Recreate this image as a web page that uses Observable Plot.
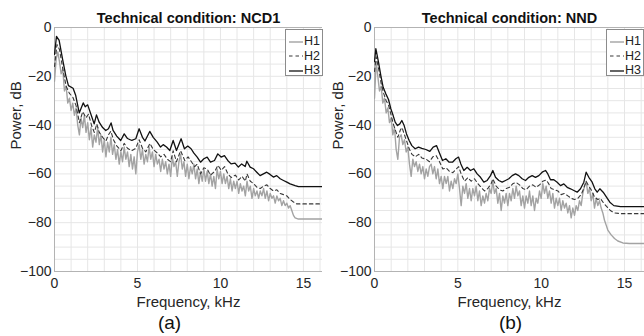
<!DOCTYPE html>
<html>
<head>
<meta charset="utf-8">
<script src="https://cdn.jsdelivr.net/npm/d3@7"></script>
<script src="https://cdn.jsdelivr.net/npm/@observablehq/plot@0.6"></script>
<style>
  body { margin: 0; background: #fff; }
  #wrap { position: relative; width: 644px; height: 336px; overflow: hidden; font-family: "Liberation Sans", Arial, sans-serif; }
  #wrap svg.plot { position: absolute; top: 0; }
  .leg { position: absolute; background: #fff; border: 1px solid #8c8c8c; box-sizing: border-box; font-size: 12.5px; color: #222; }
  .leg .row { position: absolute; left: 2px; height: 14px; line-height: 14px; white-space: nowrap; }
  .leg .row svg { vertical-align: middle; }
  .leg .row span { position: absolute; left: 16px; top: 0; }
</style>
</head>
<body>
<div id="wrap"></div>
<script>
// ---------------- data ----------------
const titles = ["Technical condition: NCD1", "Technical condition: NND"];
const captions = ["(a)", "(b)"];
const seriesNames = ["H1", "H2", "H3"];
const xTicks = [0, 5, 10, 15];
const yTicks = [-100, -80, -60, -40, -20, 0];
const xGrid = [1, 2, 3, 4, 5, 6, 7, 8, 9, 10, 11, 12, 13, 14, 15, 16];
const yGrid = [-95, -90, -85, -80, -75, -70, -65, -60, -55, -50, -45, -40, -35, -30, -25, -20, -15, -10, -5];

// Panel (a) NCD1 : [frequency kHz, power dB]
const h3A = [[0,-11],[0.12,-3.6],[0.28,-5.3],[0.48,-12.8],[0.68,-19.7],[0.84,-23.8],[1.12,-24.9],[1.28,-27.9],[1.49,-35],[1.73,-30.9],[1.85,-32.5],[2.0,-31.7],[2.25,-36.7],[2.39,-39.5],[2.53,-35.8],[2.69,-38.8],[2.9,-41],[3.09,-42.2],[3.25,-41.5],[3.41,-39.1],[3.53,-42.2],[3.75,-44.5],[3.99,-46.3],[4.2,-43.6],[4.4,-45.5],[4.66,-46.3],[4.9,-45.6],[5.1,-41.5],[5.3,-45],[5.45,-46.5],[5.74,-42.6],[5.95,-45],[6.19,-47],[6.39,-49],[6.55,-48],[6.75,-49],[6.95,-50.4],[7.15,-46.3],[7.35,-50.4],[7.63,-45.6],[7.83,-49.7],[8.03,-48.6],[8.23,-49.7],[8.4,-51.5],[8.6,-53.1],[8.8,-55.2],[9.0,-53.8],[9.2,-53.1],[9.4,-55.2],[9.64,-54.5],[9.84,-51.8],[10.04,-53.1],[10.24,-52.5],[10.44,-54.5],[10.64,-55.9],[10.88,-55.6],[11.08,-57.2],[11.28,-55.9],[11.49,-57],[11.59,-54.8],[11.79,-57.2],[11.99,-57.9],[12.19,-59.3],[12.39,-60.7],[12.59,-60],[12.79,-59.3],[12.99,-60.2],[13.19,-61.3],[13.39,-60.7],[13.6,-62],[13.8,-62.7],[14.0,-63.4],[14.2,-64.1],[14.5,-64.8],[14.7,-65.2],[16.2,-65.2]];
const h2A = [[0,-16],[0.15,-7],[0.3,-9],[0.5,-17],[0.7,-24],[0.9,-27],[1.1,-28.5],[1.3,-32],[1.5,-39],[1.7,-34.5],[1.9,-37],[2.05,-35.5],[2.25,-40.5],[2.4,-43],[2.55,-39.5],[2.7,-43],[2.9,-45],[3.1,-46.5],[3.25,-44],[3.4,-42.5],[3.55,-46],[3.75,-48.5],[4.0,-50.5],[4.2,-47.5],[4.4,-49.5],[4.65,-50.5],[4.9,-49.5],[5.1,-46],[5.3,-49.5],[5.5,-51],[5.75,-47.5],[5.95,-50],[6.2,-51.5],[6.4,-53],[6.6,-52],[6.8,-54],[7.0,-55],[7.15,-50.5],[7.35,-55],[7.6,-50.5],[7.85,-54.5],[8.05,-53],[8.25,-55],[8.45,-57],[8.6,-56],[8.8,-60],[9.0,-57.5],[9.2,-58],[9.4,-60.5],[9.65,-59],[9.85,-56.5],[10.05,-58.5],[10.25,-57],[10.45,-60],[10.65,-61.5],[10.9,-60.5],[11.1,-62.5],[11.3,-61],[11.5,-63],[11.6,-60],[11.8,-63],[12.0,-64],[12.2,-65.5],[12.4,-66],[12.6,-65],[12.8,-64.5],[13.0,-66],[13.2,-67],[13.4,-66.5],[13.6,-68],[13.8,-68.5],[14.0,-69],[14.2,-70.5],[14.4,-71.5],[14.6,-72.3],[16.2,-72.3]];
const h1A = [[0,-22],[0.1,-13],[0.2,-10],[0.3,-14],[0.4,-19],[0.5,-17],[0.6,-26],[0.7,-24],[0.8,-31],[0.9,-29],[1.0,-34],[1.1,-31],[1.2,-36],[1.3,-33],[1.4,-40],[1.5,-44],[1.6,-37],[1.7,-41],[1.8,-36],[1.9,-43],[2.0,-39],[2.1,-46],[2.2,-41],[2.3,-49],[2.4,-44],[2.5,-47],[2.6,-41],[2.7,-48],[2.8,-44],[2.9,-51],[3.0,-46],[3.1,-53],[3.2,-47],[3.3,-51],[3.4,-45],[3.5,-52],[3.6,-48],[3.7,-54],[3.8,-50],[3.9,-56],[4.0,-51],[4.1,-55],[4.2,-49],[4.3,-54],[4.4,-51],[4.5,-57],[4.6,-52],[4.7,-58],[4.8,-53],[4.9,-60],[5.0,-51],[5.1,-48],[5.2,-54],[5.3,-50],[5.4,-56],[5.5,-52],[5.6,-55],[5.7,-49],[5.8,-54],[5.9,-51],[6.0,-57],[6.1,-52],[6.2,-56],[6.3,-54],[6.4,-59],[6.5,-54],[6.6,-58],[6.7,-55],[6.8,-60],[6.9,-56],[7.0,-61],[7.1,-53],[7.2,-57],[7.3,-55],[7.4,-61],[7.5,-55],[7.6,-52],[7.7,-58],[7.8,-55],[7.9,-61],[8.0,-56],[8.1,-62],[8.2,-57],[8.3,-60],[8.4,-56],[8.5,-62],[8.6,-58],[8.7,-64],[8.8,-59],[8.9,-63],[9.0,-58],[9.1,-63],[9.2,-59],[9.3,-64],[9.4,-60],[9.5,-65],[9.6,-61],[9.7,-66],[9.8,-58],[9.9,-62],[10.0,-59],[10.1,-64],[10.2,-60],[10.3,-64],[10.4,-61],[10.5,-66],[10.6,-62],[10.7,-67],[10.8,-63],[10.9,-66],[11.0,-63],[11.1,-68],[11.2,-64],[11.3,-67],[11.4,-65],[11.5,-69],[11.6,-63],[11.7,-67],[11.8,-65],[11.9,-70],[12.0,-66],[12.1,-69],[12.2,-67],[12.3,-70],[12.4,-67],[12.5,-69],[12.6,-66],[12.7,-70],[12.8,-67],[12.9,-71],[13.0,-68],[13.1,-70],[13.2,-69],[13.3,-72],[13.4,-69],[13.5,-71],[13.6,-70],[13.7,-73],[13.8,-71],[13.9,-73],[14.0,-72],[14.1,-74],[14.2,-73],[14.3,-75],[14.4,-77],[14.5,-78],[14.7,-78.5],[16.2,-78.5]];

// Panel (b) NND : [frequency kHz, power dB]
const h3B = [[0,-14],[0.08,-8.7],[0.24,-14.2],[0.38,-19.7],[0.52,-24.5],[0.68,-27.2],[0.84,-29.5],[0.98,-33.3],[1.12,-36.1],[1.24,-38.8],[1.38,-40.2],[1.52,-39.5],[1.64,-38.1],[1.78,-40.2],[1.92,-43.6],[2.08,-46.3],[2.24,-48.4],[2.44,-49.7],[2.64,-49],[2.84,-49.5],[3.08,-50],[3.32,-50.8],[3.52,-49],[3.72,-48.4],[3.88,-51.1],[4.08,-54.5],[4.28,-53.8],[4.48,-55.2],[4.68,-55.2],[4.88,-53.8],[5.04,-53.1],[5.18,-55.9],[5.36,-58.6],[5.56,-57.3],[5.76,-58.6],[5.96,-57.9],[6.16,-60],[6.36,-61.4],[6.56,-63.4],[6.76,-62.7],[6.96,-60.7],[7.1,-58.6],[7.26,-61.4],[7.46,-62.7],[7.66,-63.4],[7.86,-62.7],[8.06,-62],[8.26,-60.7],[8.46,-60],[8.66,-60.7],[8.86,-62],[9.06,-62.7],[9.26,-61.4],[9.46,-60.7],[9.66,-61.4],[9.86,-60.7],[10.06,-59.3],[10.26,-58.6],[10.4,-60],[10.56,-62.4],[10.76,-62.4],[10.96,-63.4],[11.16,-64.8],[11.36,-64.1],[11.56,-65.5],[11.76,-66.1],[11.96,-66.8],[12.16,-67.5],[12.36,-66.1],[12.56,-63.4],[12.7,-59.3],[12.86,-61.4],[13.06,-63.4],[13.22,-66.1],[13.36,-67.5],[13.52,-66.1],[13.72,-67.5],[13.92,-69.5],[14.12,-71.6],[14.36,-73],[14.76,-73.4],[16.2,-73.4]];
const h2B = [[0,-18],[0.1,-12],[0.25,-17],[0.4,-23],[0.55,-27],[0.7,-30],[0.85,-32],[1.0,-36],[1.15,-40],[1.3,-43],[1.4,-45],[1.55,-42],[1.65,-41],[1.8,-44],[1.95,-47],[2.1,-50],[2.25,-52],[2.45,-53],[2.65,-52],[2.85,-53.5],[3.1,-54],[3.3,-55],[3.5,-53],[3.7,-52.5],[3.9,-55],[4.1,-58],[4.3,-57.5],[4.5,-59],[4.7,-59.5],[4.9,-58],[5.05,-57],[5.2,-60],[5.4,-63],[5.6,-61.5],[5.8,-63],[6.0,-62],[6.2,-64],[6.4,-65.5],[6.6,-67],[6.8,-66],[7.0,-64],[7.1,-62],[7.3,-65],[7.5,-66.5],[7.7,-67],[7.9,-66],[8.1,-65.5],[8.3,-64],[8.5,-63.5],[8.7,-64.5],[8.9,-66],[9.1,-66.5],[9.3,-65],[9.5,-64.5],[9.7,-65.5],[9.9,-64.5],[10.1,-63],[10.3,-62.5],[10.45,-64],[10.6,-66],[10.8,-66.5],[11.0,-67],[11.2,-68.5],[11.4,-68],[11.6,-69],[11.8,-70],[12.0,-70.5],[12.2,-70],[12.4,-68.5],[12.55,-66],[12.7,-63],[12.85,-65],[13.05,-67],[13.2,-69.5],[13.4,-70.5],[13.55,-70],[13.75,-72],[13.95,-73.5],[14.15,-75],[14.4,-76],[14.8,-76.3],[16.2,-76.3]];
const h1B = [[0,-29],[0.1,-14],[0.2,-20],[0.3,-26],[0.4,-24],[0.5,-31],[0.6,-29],[0.7,-35],[0.8,-33],[0.9,-39],[1.0,-37],[1.1,-44],[1.2,-41],[1.3,-50],[1.4,-54],[1.5,-45],[1.6,-44],[1.7,-48],[1.8,-46],[1.9,-51],[2.0,-49],[2.1,-56],[2.2,-61],[2.3,-54],[2.4,-57],[2.5,-55],[2.6,-59],[2.7,-56],[2.8,-60],[2.9,-57],[3.0,-62],[3.1,-58],[3.2,-61],[3.3,-57],[3.4,-56],[3.5,-60],[3.6,-57],[3.7,-62],[3.8,-58],[3.9,-64],[4.0,-61],[4.1,-66],[4.2,-61],[4.3,-64],[4.4,-61],[4.5,-67],[4.6,-63],[4.7,-66],[4.8,-62],[4.9,-64],[5.0,-60],[5.1,-66],[5.2,-73],[5.3,-65],[5.4,-68],[5.5,-64],[5.6,-70],[5.7,-66],[5.8,-71],[5.9,-66],[6.0,-69],[6.1,-65],[6.2,-71],[6.3,-67],[6.4,-73],[6.5,-69],[6.6,-72],[6.7,-68],[6.8,-71],[6.9,-66],[7.0,-68],[7.1,-63],[7.2,-68],[7.3,-66],[7.4,-72],[7.5,-68],[7.6,-75],[7.7,-69],[7.8,-72],[7.9,-68],[8.0,-73],[8.1,-68],[8.2,-71],[8.3,-66],[8.4,-70],[8.5,-65],[8.6,-69],[8.7,-67],[8.8,-73],[8.9,-69],[9.0,-74],[9.1,-69],[9.2,-72],[9.3,-67],[9.4,-73],[9.5,-69],[9.6,-75],[9.7,-70],[9.8,-72],[9.9,-67],[10.0,-70],[10.1,-64],[10.2,-68],[10.3,-65],[10.4,-70],[10.5,-67],[10.6,-72],[10.7,-68],[10.8,-74],[10.9,-70],[11.0,-73],[11.1,-70],[11.2,-75],[11.3,-71],[11.4,-74],[11.5,-72],[11.6,-76],[11.7,-73],[11.8,-78],[11.9,-74],[12.0,-77],[12.1,-73],[12.2,-75],[12.3,-71],[12.4,-73],[12.5,-68],[12.6,-65],[12.7,-63],[12.8,-68],[12.9,-66],[13.0,-71],[13.1,-68],[13.2,-74],[13.3,-70],[13.4,-73],[13.5,-71],[13.6,-74],[13.7,-76],[13.8,-79],[13.9,-81],[14.0,-83],[14.2,-85],[14.4,-86.5],[14.6,-87.5],[14.9,-88.3],[15.3,-88.5],[16.2,-88.5]];

// ---------------- drawing ----------------
const styles = [
  {stroke: "#a3a3a3", strokeWidth: 1.4},
  {stroke: "#383838", strokeWidth: 1.1, strokeDasharray: "3.5,3"},
  {stroke: "#111111", strokeWidth: 1.3}
];
const fx = d => d[0], fy = d => d[1];

function panel(series, title, caption, marginLeft, xMax, captionDx) {
  const marks = [
    Plot.ruleX(xGrid, {stroke: "#e6e6e6", strokeWidth: 1}),
    Plot.ruleY(yGrid, {stroke: "#e6e6e6", strokeWidth: 1}),
    Plot.ruleX([0], {stroke: "#b3b3b3", strokeWidth: 1}),
    Plot.ruleY([-100, 0], {stroke: "#b3b3b3", strokeWidth: 1}),
    Plot.axisX(xTicks, {tickSize: 0, tickPadding: 7, fontSize: 14, fill: "#262626", label: null}),
    Plot.axisY(yTicks, {tickSize: 0, tickPadding: 3, fontSize: 14, fill: "#262626", label: null}),
  ];
  series.forEach((s, i) => marks.push(Plot.line(s, {x: fx, y: fy, ...styles[i], clip: true})));
  marks.push(
    Plot.text([title], {frameAnchor: "top", lineAnchor: "middle", dy: -9, fontSize: 14.5, fontWeight: "bold", fill: "#111"}),
    Plot.text(["Frequency, kHz"], {frameAnchor: "bottom", lineAnchor: "middle", dy: 31, fontSize: 15, fill: "#262626"}),
    Plot.text(["Power, dB"], {frameAnchor: "left", lineAnchor: "middle", rotate: -90, dx: -(marginLeft - 15.5), fontSize: 15, fill: "#262626"}),
    Plot.text([caption], {frameAnchor: "bottom", lineAnchor: "middle", dy: 51, dx: captionDx, fontSize: 19, fill: "#111"})
  );
  return Plot.plot({
    width: 322,
    height: 336,
    marginLeft,
    marginRight: 0,
    marginTop: 27,
    marginBottom: 65,
    style: {fontFamily: "'Liberation Sans', Arial, sans-serif", background: "transparent", overflow: "visible"},
    x: {domain: [0, xMax]},
    y: {domain: [-100, 0]},
    marks
  });
}

const wrap = document.getElementById("wrap");
const svgA = panel([h1A, h2A, h3A], titles[0], captions[0], 54, 16.15, -19);
const svgB = panel([h1B, h2B, h3B], titles[1], captions[1], 52, 16.2, 1);
svgA.classList.add("plot"); svgB.classList.add("plot");
svgA.style.left = "0px"; svgB.style.left = "322px";
wrap.appendChild(svgA); wrap.appendChild(svgB);

function legend(left) {
  const div = document.createElement("div");
  div.className = "leg";
  div.style.left = left + "px";
  div.style.top = "29px";
  div.style.width = "38px";
  div.style.height = "47px";
  seriesNames.forEach((name, i) => {
    const row = document.createElement("div");
    row.className = "row";
    row.style.top = (4 + i * 14.5) + "px";
    const s = styles[i];
    row.innerHTML = `<svg width="15" height="14"><line x1="1" x2="15" y1="7" y2="7" stroke="${s.stroke}" stroke-width="${s.strokeWidth}" ${s.strokeDasharray ? `stroke-dasharray="${s.strokeDasharray}"` : ""}/></svg><span>${name}</span>`;
    div.appendChild(row);
  });
  wrap.appendChild(div);
}
legend(285);
legend(606);
</script>
</body>
</html>
